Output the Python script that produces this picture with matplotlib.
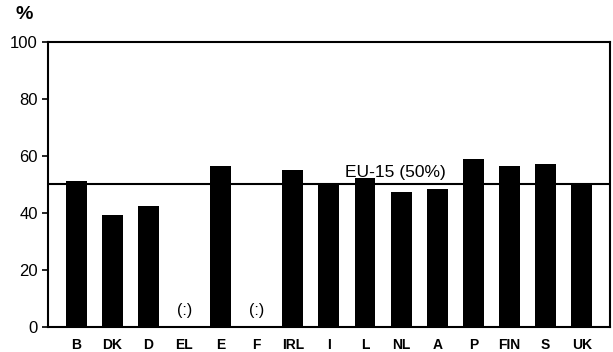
import matplotlib
matplotlib.use("Agg")
import matplotlib.pyplot as plt
import numpy as np

plt.rcParams['font.family'] = ['Liberation Sans', 'DejaVu Sans']

countries = ["B", "DK", "D", "EL", "E", "F", "IRL", "I", "L", "NL", "A", "P", "FIN", "S", "UK"]
values = [51, 39.3, 42.3, np.nan, 56.3, np.nan, 55, 50, 52.3, 47.3, 48.3, 59, 56.3, 57, 50]
eu_avg = 50
eu_label = "EU-15 (50%)"
missing_label = "(:)"
yticks = [0, 20, 40, 60, 80, 100]

fig = plt.figure(figsize=(6.13, 3.52), dpi=100)
ax = fig.add_axes([0.0775, 0.0719, 0.9175, 0.8096])

x = np.arange(len(countries))
vals = np.array(values, dtype=float)
mask = ~np.isnan(vals)
ax.bar(x[mask], vals[mask], width=0.58, color="black", zorder=2)

ax.axhline(eu_avg, color="black", lw=1.5, zorder=3)
ax.text(8.85, eu_avg + 1.3, eu_label, ha="center", va="bottom", fontsize=12.5)

for i, v in enumerate(values):
    if np.isnan(v):
        ax.text(x[i], 5.8, missing_label, ha="center", va="center", fontsize=11.5)

ax.set_xlim(-0.79, 14.78)
ax.set_ylim(0, 100)
ax.set_yticks(yticks)
ax.set_yticklabels([str(t) for t in yticks], fontsize=12)
ax.set_xticks(x)
ax.set_xticklabels(countries, fontsize=10, fontweight="bold")
ax.tick_params(axis="x", length=0, pad=8)
ax.tick_params(axis="y", length=4, width=1.2, pad=3)
for s in ax.spines.values():
    s.set_linewidth(1.5)

fig.text(0.026, 0.935, "%", fontsize=14, fontweight="bold", ha="left", va="bottom")

fig.savefig("out.png", dpi=100)
